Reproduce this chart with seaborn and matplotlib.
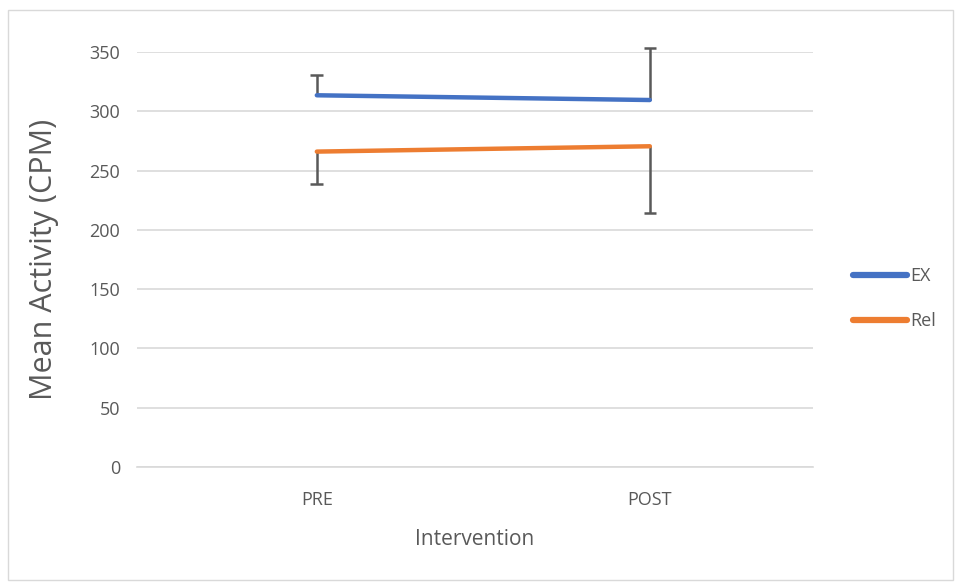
import pandas as pd
import matplotlib.pyplot as plt
import seaborn as sns
from matplotlib.patches import Rectangle

phases = ["PRE", "POST"]
ex_mean = [313.5, 309.5]
ex_err_up = [17, 44]
rel_mean = [266, 270.5]
rel_err_down = [27, 56]

df = pd.DataFrame({
    "phase": phases * 2,
    "mean": ex_mean + rel_mean,
    "group": ["EX"] * 2 + ["Rel"] * 2,
})

sns.set_style("white")
plt.rcParams['font.family'] = ['Open Sans', 'DejaVu Sans']
grey = "#595959"

fig = plt.figure(figsize=(9.58, 5.83), dpi=100)
ax = fig.add_axes([137 / 958, 1 - 467 / 583, (813 - 137) / 958, (467 - 52) / 583])
fig.add_artist(Rectangle((8 / 958, 3 / 583), 945 / 958, 570 / 583, transform=fig.transFigure,
                         fill=False, edgecolor="#d9d9d9", linewidth=1))

palette = {"EX": "#4472C4", "Rel": "#ED7D31"}
sns.lineplot(data=df, x="phase", y="mean", hue="group", palette=palette, linewidth=3.2,
             ax=ax, sort=False, solid_capstyle="round", zorder=3)

# one-sided error bars: EX upward, Rel downward
xs = [0, 1]
ex_top = [m + e for m, e in zip(ex_mean, ex_err_up)]
rel_bot = [m - e for m, e in zip(rel_mean, rel_err_down)]
ax.vlines(xs, ex_mean, ex_top, color=grey, linewidth=1.8, zorder=2, clip_on=False)
ax.vlines(xs, rel_bot, rel_mean, color=grey, linewidth=1.8, zorder=2, clip_on=False)
cap = 0.019
ax.hlines(ex_top, [x - cap for x in xs], [x + cap for x in xs], color=grey, linewidth=1.8,
          clip_on=False)
ax.hlines(rel_bot, [x - cap for x in xs], [x + cap for x in xs], color=grey, linewidth=1.8,
          clip_on=False)

ax.set_ylim(0, 350)
ax.set_yticks(range(0, 351, 50))
ax.set_xlim(-0.54, 1.49)
ax.yaxis.grid(True, color="#d9d9d9", linewidth=1.2)
ax.set_axisbelow(True)
for s in ["top", "right", "left"]:
    ax.spines[s].set_visible(False)
ax.spines["bottom"].set_color("#d9d9d9")
ax.spines["bottom"].set_linewidth(1.2)
ax.tick_params(axis="both", length=0, labelsize=13, colors=grey)
ax.tick_params(axis="y", pad=12)
ax.tick_params(axis="x", pad=17)

ax.set_ylabel("Mean Activity (CPM)", fontsize=22, color=grey, labelpad=22)
ax.set_xlabel("Intervention", fontsize=15, color=grey, labelpad=15)

leg = ax.legend(loc="center left", bbox_to_anchor=(1.035, 0.405), frameon=False,
                fontsize=13, handlelength=3.0, labelspacing=1.5, handletextpad=0.15,
                labelcolor=grey)
for line in leg.get_lines():
    line.set_linewidth(4.5)
    line.set_solid_capstyle("round")

fig.savefig("out.png", dpi=100)
